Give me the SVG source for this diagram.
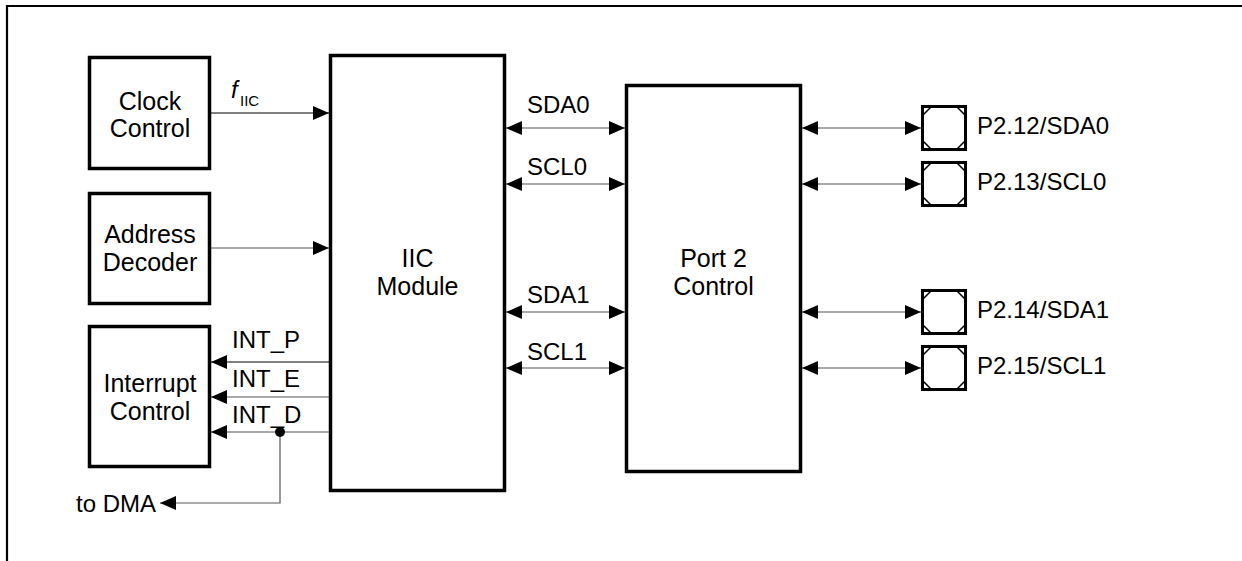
<svg xmlns="http://www.w3.org/2000/svg" width="1242" height="561" viewBox="0 0 1242 561">
<style>
.box{fill:#fff;stroke:#000;stroke-width:3.5}
.lbl{font-family:"Liberation Sans",Arial,sans-serif;font-size:24px;fill:#000}
.blk{font-size:25px}
.sub{font-size:15px}
.c{text-anchor:middle}
.ln{fill:none;stroke:#000;stroke-width:1.2}
.gy{stroke:#555}
.pad{fill:#fff;stroke:#000;stroke-width:3}
.crn{stroke:#000;stroke-width:1.5;fill:none}
</style>
<defs>
<marker id="ah" markerUnits="userSpaceOnUse" markerWidth="17" markerHeight="15" refX="16" refY="7" orient="auto-start-reverse">
<path d="M0,0 L16,7 L0,14 z" fill="#000"/>
</marker>
<g id="padshape">
<rect class="pad" x="0" y="0" width="43" height="43"/>
<path class="crn" d="M0,9 L9,0 M34,0 L43,9 M0,34 L9,43 M34,43 L43,34"/>
</g>
</defs>
<rect width="1242" height="561" fill="#fff"/>
<path d="M7,561 V6 H1242" fill="none" stroke="#000" stroke-width="2.2"/>

<g id="connectors">
<line class="ln" x1="211" y1="113" x2="329" y2="113" marker-end="url(#ah)"/>
<line class="ln gy" x1="211" y1="248" x2="329" y2="248" marker-end="url(#ah)"/>
<line class="ln" x1="329" y1="362" x2="211" y2="362" marker-end="url(#ah)"/>
<line class="ln gy" x1="329" y1="397" x2="211" y2="397" marker-end="url(#ah)"/>
<line class="ln gy" x1="329" y1="432" x2="211" y2="432" marker-end="url(#ah)"/>
<path class="ln gy" d="M280,432 V503 H160" marker-end="url(#ah)"/>
<circle cx="280" cy="432" r="5" fill="#000"/>
<line class="ln gy" x1="506" y1="128" x2="625" y2="128" marker-start="url(#ah)" marker-end="url(#ah)"/>
<line class="ln gy" x1="506" y1="184" x2="625" y2="184" marker-start="url(#ah)" marker-end="url(#ah)"/>
<line class="ln gy" x1="506" y1="312" x2="625" y2="312" marker-start="url(#ah)" marker-end="url(#ah)"/>
<line class="ln gy" x1="506" y1="368" x2="625" y2="368" marker-start="url(#ah)" marker-end="url(#ah)"/>
<line class="ln gy" x1="802" y1="128" x2="921" y2="128" marker-start="url(#ah)" marker-end="url(#ah)"/>
<line class="ln gy" x1="802" y1="184" x2="921" y2="184" marker-start="url(#ah)" marker-end="url(#ah)"/>
<line class="ln gy" x1="802" y1="312" x2="921" y2="312" marker-start="url(#ah)" marker-end="url(#ah)"/>
<line class="ln gy" x1="802" y1="368" x2="921" y2="368" marker-start="url(#ah)" marker-end="url(#ah)"/>
<text class="lbl" x="231" y="98" font-style="italic">f</text>
<text class="lbl sub" x="240" y="106">IIC</text>
<text class="lbl" x="527" y="113">SDA0</text>
<text class="lbl" x="527" y="175">SCL0</text>
<text class="lbl" x="527" y="303">SDA1</text>
<text class="lbl" x="527" y="360">SCL1</text>
<text class="lbl" x="232" y="348">INT_P</text>
<text class="lbl" x="232" y="387">INT_E</text>
<text class="lbl" x="232" y="423">INT_D</text>
<text class="lbl" x="76" y="512">to DMA</text>
</g>

<g id="clock">
<rect class="box" x="89.5" y="57.5" width="120" height="111"/>
<text class="lbl blk c" x="150" y="110">Clock</text>
<text class="lbl blk c" x="150" y="137">Control</text>
</g>
<g id="addr">
<rect class="box" x="89.5" y="193.5" width="120" height="110"/>
<text class="lbl blk c" x="150" y="243">Address</text>
<text class="lbl blk c" x="150" y="271">Decoder</text>
</g>
<g id="intr">
<rect class="box" x="89.5" y="326.5" width="120" height="140"/>
<text class="lbl blk c" x="150" y="392">Interrupt</text>
<text class="lbl blk c" x="150" y="420">Control</text>
</g>
<g id="iic">
<rect class="box" x="330.5" y="55.5" width="174" height="435"/>
<text class="lbl blk c" x="417.5" y="267">IIC</text>
<text class="lbl blk c" x="417.5" y="295">Module</text>
</g>
<g id="port2">
<rect class="box" x="626.5" y="85.5" width="174" height="386"/>
<text class="lbl blk c" x="713.5" y="267">Port 2</text>
<text class="lbl blk c" x="713.5" y="295">Control</text>
</g>
<g id="pad12">
<use href="#padshape" x="922.5" y="106.5"/>
<text class="lbl" x="977" y="134">P2.12/SDA0</text>
</g>
<g id="pad13">
<use href="#padshape" x="922.5" y="162.5"/>
<text class="lbl" x="977" y="190">P2.13/SCL0</text>
</g>
<g id="pad14">
<use href="#padshape" x="922.5" y="290.5"/>
<text class="lbl" x="977" y="318">P2.14/SDA1</text>
</g>
<g id="pad15">
<use href="#padshape" x="922.5" y="346.5"/>
<text class="lbl" x="977" y="374">P2.15/SCL1</text>
</g>
</svg>
